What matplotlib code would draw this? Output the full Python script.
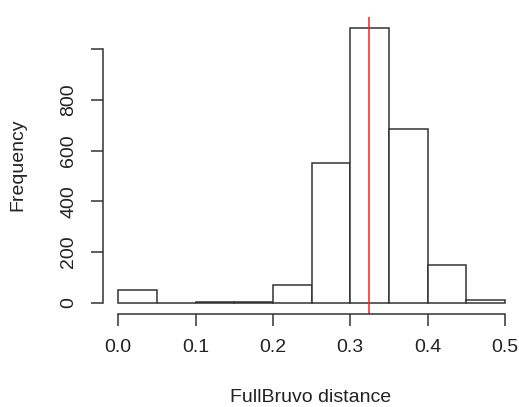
import matplotlib
matplotlib.use("Agg")
import matplotlib.pyplot as plt

# histogram of FullBruvo distances, bins of width 0.05
bin_edges = [0.0, 0.05, 0.1, 0.15, 0.2, 0.25, 0.3, 0.35, 0.4, 0.45, 0.5]
counts = [50, 0, 4, 4, 70, 552, 1085, 686, 150, 10]
mean_line = 0.324
y_ticks = [0, 200, 400, 600, 800, 1000]
y_tick_labels = ["0", "200", "400", "600", "800", ""]
x_ticks = [0.0, 0.1, 0.2, 0.3, 0.4, 0.5]
x_tick_labels = ["0.0", "0.1", "0.2", "0.3", "0.4", "0.5"]

plt.rcParams["font.family"] = ["Liberation Sans", "DejaVu Sans"]
edge = "#333333"
txt = "#222222"

fig = plt.figure(figsize=(5.19, 4.07), dpi=100)
W, H = 519, 407
left_px, right_px = 102.8, 520.4
top_px, bottom_px = 16.9, 313.7
ax = fig.add_axes([left_px / W, (H - bottom_px) / H,
                   (right_px - left_px) / W, (bottom_px - top_px) / H])

widths = [bin_edges[i + 1] - bin_edges[i] for i in range(len(counts))]
ax.bar(bin_edges[:-1], counts, width=widths, align="edge",
       facecolor="white", edgecolor=edge, linewidth=1.1)
ax.axvline(mean_line, color="#ff2020", linewidth=1.1)

ax.set_xlim(-0.02, 0.52)
ax.set_ylim(-0.04 * 1085, 1.04 * 1085)

for s in ["top", "right"]:
    ax.spines[s].set_visible(False)
ax.spines["left"].set_bounds(0, 1000)
ax.spines["bottom"].set_bounds(0, 0.5)
for s in ["left", "bottom"]:
    ax.spines[s].set_color(edge)
    ax.spines[s].set_linewidth(1.1)

ax.set_yticks(y_ticks)
ax.set_yticklabels(y_tick_labels, rotation=90, va="center")
ax.set_xticks(x_ticks)
ax.set_xticklabels(x_tick_labels)
ax.tick_params(axis="both", length=8.5, width=1.1, color=edge,
               labelsize=14, labelcolor=txt, pad=10)

fig.text(18 / W, (H - 165) / H, "Frequency", rotation=90, ha="center",
         va="center", fontsize=14, color=txt)
fig.text(311 / W, (H - 398) / H, "FullBruvo distance", ha="center",
         va="center", fontsize=14, color=txt)

fig.savefig("out.png", dpi=100)
